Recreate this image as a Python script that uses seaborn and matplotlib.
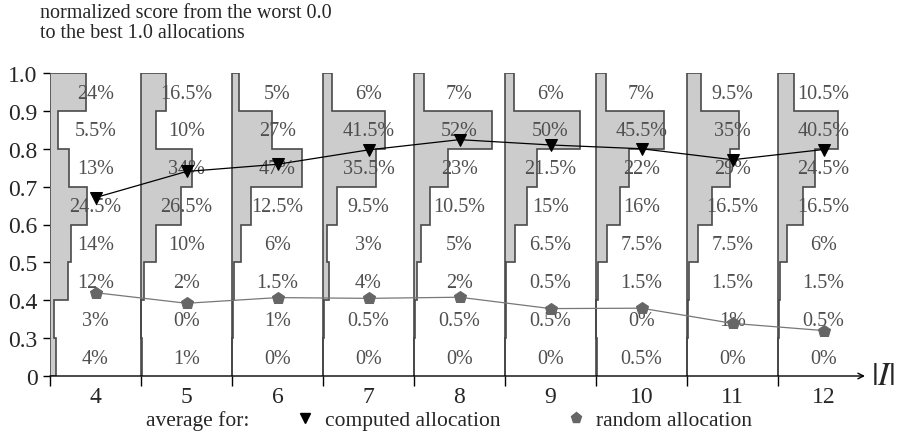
import numpy as np
import pandas as pd
import matplotlib
matplotlib.use("Agg")
import matplotlib.pyplot as plt
from matplotlib.lines import Line2D
import seaborn as sns

# ---------------- data ----------------
groups = [4, 5, 6, 7, 8, 9, 10, 11, 12]
bin_labels = ["0", "0.3", "0.4", "0.5", "0.6", "0.7", "0.8", "0.9", "1.0"]
bin_edges = [0.0, 0.3, 0.4, 0.5, 0.6, 0.7, 0.8, 0.9, 1.0]
# percentages per bin, from bottom bin [0,0.3) up to [0.9,1.0]
pct_4 = [4, 3, 12, 14, 24.5, 13, 5.5, 24]
pct_5 = [1, 0, 2, 10, 26.5, 34, 10, 16.5]
pct_6 = [0, 1, 1.5, 6, 12.5, 47, 27, 5]
pct_7 = [0, 0.5, 4, 3, 9.5, 35.5, 41.5, 6]
pct_8 = [0, 0.5, 2, 5, 10.5, 23, 52, 7]
pct_9 = [0, 0.5, 0.5, 6.5, 15, 21.5, 50, 6]
pct_10 = [0.5, 0, 1.5, 7.5, 16, 22, 45.5, 7]
pct_11 = [0, 1, 1.5, 7.5, 16.5, 29, 35, 9.5]
pct_12 = [0, 0.5, 1.5, 6, 16.5, 24.5, 40.5, 10.5]
percentages = [pct_4, pct_5, pct_6, pct_7, pct_8, pct_9, pct_10, pct_11, pct_12]
avg_computed = [0.671, 0.740, 0.759, 0.797, 0.824, 0.810, 0.800, 0.771, 0.798]
avg_random = [0.420, 0.392, 0.407, 0.405, 0.408, 0.378, 0.379, 0.339, 0.320]

# ---------------- style ----------------
sns.set_style("ticks")
plt.rcParams["font.family"] = ["Liberation Serif", "DejaVu Serif"]
plt.rcParams["mathtext.fontset"] = "stix"

FS = 14.5
TICK_FS = 17
LEG_FS = 15.5
TEXT_GRAY = "#4f4f4f"
PCT_SCALE = 1.0 / 61.0  # group width corresponds to ~61 %


def to_display(v):
    """Map score value to the piecewise (broken) display axis."""
    v = np.asarray(v, dtype=float)
    return np.where(v < 0.3, v / 0.3, 1 + (v - 0.3) / 0.1)


fig = plt.figure(figsize=(9.02, 4.39), dpi=100)
ax = fig.add_axes([50 / 902, 62 / 439, (865 - 50) / 902, (377 - 74) / 439])
xmax = (865 - 50) / 91.0
ax.set_xlim(0, xmax)
ax.set_ylim(0, 8)

# ---------------- histograms ----------------
nb = len(bin_edges) - 1
for k, pct in enumerate(percentages):
    w = np.array(pct) * PCT_SCALE
    xs = [k, k]
    ys = [0, nb]
    for j in range(nb - 1, -1, -1):
        xs += [k + w[j], k + w[j]]
        ys += [j + 1, j]
    ax.fill(xs, ys, facecolor="#cccccc", edgecolor="#4a4a4a",
            linewidth=1.2, zorder=1)
    for j in range(nb):
        s = f"{pct[j]:g}%"
        ax.text(k + 0.5, j + 0.47, s, ha="center", va="center",
                fontsize=FS, color=TEXT_GRAY, zorder=2)

# ---------------- averages ----------------
xc = np.arange(len(groups)) + 0.5
df = pd.DataFrame({
    "x": np.concatenate([xc, xc]),
    "y": np.concatenate([to_display(avg_computed), to_display(avg_random)]),
    "series": ["computed allocation"] * len(groups) + ["random allocation"] * len(groups),
})
sns.lineplot(data=df[df.series == "computed allocation"], x="x", y="y", ax=ax,
             color="black", linewidth=0.9, marker="v", markersize=9,
             markeredgecolor="black", zorder=4, legend=False)
sns.lineplot(data=df[df.series == "random allocation"], x="x", y="y", ax=ax,
             color="#777777", linewidth=0.9, marker="p", markersize=9,
             markerfacecolor="#666666", markeredgecolor="#666666",
             zorder=3, legend=False)

# ---------------- axes ----------------
for s in ["top", "right", "left", "bottom"]:
    ax.spines[s].set_visible(False)
ax.set_xlabel("")
ax.set_ylabel("")
ax.set_yticks(np.arange(len(bin_labels)))
ax.set_yticklabels(bin_labels, fontsize=TICK_FS)
ax.tick_params(axis="y", direction="out", length=5, width=1, pad=4, color="black")
ax.set_xticks(np.arange(len(groups)))
ax.set_xticklabels([])
ax.tick_params(axis="x", which="major", direction="out", length=7, width=1, color="black")
ax.set_xticks(xc, minor=True)
ax.set_xticklabels([str(g) for g in groups], minor=True, fontsize=TICK_FS)
ax.tick_params(axis="x", which="minor", length=0, pad=7)
ax.annotate("", xy=(xmax, 0), xytext=(0, 0), xycoords="data",
            arrowprops=dict(arrowstyle="->", color="black", lw=1,
                            shrinkA=0, shrinkB=0), annotation_clip=False)
ax.text(xmax + 0.07, 0, r"$|I|$", fontsize=24, ha="left", va="center")

# title
fig.text(40 / 902, 1 - 13 / 439, "normalized score from the worst 0.0",
         fontsize=FS, ha="left", va="center")
fig.text(40 / 902, 1 - 34 / 439, "to the best 1.0 allocations",
         fontsize=FS, ha="left", va="center")

# legend
fig.text(146 / 902, 1 - 421 / 439, "average for:", fontsize=LEG_FS,
         ha="left", va="center")
handles = [
    Line2D([], [], color="black", marker="v", linestyle="none", markersize=6.5),
    Line2D([], [], color="#666666", marker="p", linestyle="none", markersize=8),
]
fig.legend(handles, ["computed allocation", "random allocation"],
           loc="center left", bbox_to_anchor=(296 / 902, 1 - 421 / 439),
           ncol=2, frameon=False, fontsize=LEG_FS, handlelength=0.8,
           handletextpad=0.55, columnspacing=3.1, borderaxespad=0, borderpad=0)

fig.savefig("out.png", dpi=100)
